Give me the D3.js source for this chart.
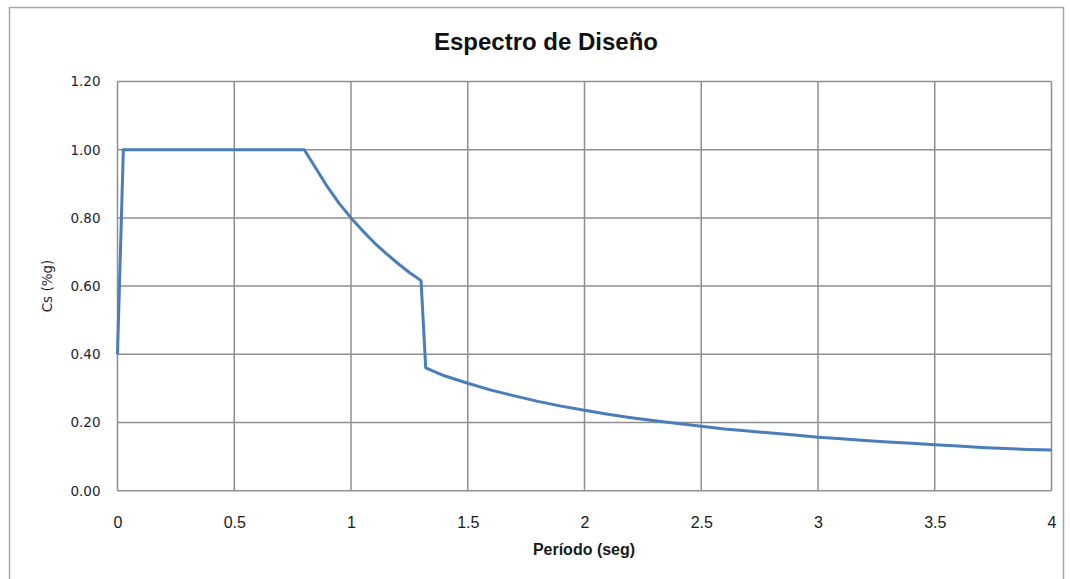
<!DOCTYPE html>
<html>
<head>
<meta charset="utf-8">
<script src="https://cdn.jsdelivr.net/npm/d3@7/dist/d3.min.js"></script>
<style>
  html, body { margin: 0; padding: 0; background: #fff; }
  svg { display: block; }
</style>
</head>
<body>
<svg id="chart" width="1070" height="579"></svg>
<script>
// Design spectrum: period T (s) and seismic coefficient Cs (%g)
const periods = [0, 0.025, 0.8, 0.85, 0.9, 0.95, 1.0, 1.05, 1.1, 1.15, 1.2, 1.25, 1.3,
  1.32, 1.4, 1.5, 1.6, 1.7, 1.8, 1.9, 2.0, 2.1, 2.2, 2.3, 2.4, 2.5, 2.6, 2.7, 2.8, 2.9,
  3.0, 3.1, 3.2, 3.3, 3.4, 3.5, 3.6, 3.7, 3.8, 3.9, 4.0];
const csValues = [0.40, 1.00, 1.00, 0.945, 0.89, 0.842, 0.80, 0.762, 0.727, 0.696, 0.667, 0.64, 0.616,
  0.36, 0.337, 0.315, 0.295, 0.278, 0.262, 0.248, 0.236, 0.224, 0.214, 0.205, 0.197, 0.189, 0.181, 0.175, 0.169, 0.163,
  0.157, 0.152, 0.147, 0.143, 0.139, 0.135, 0.131, 0.127, 0.124, 0.121, 0.119];
const xTicks = [0, 0.5, 1, 1.5, 2, 2.5, 3, 3.5, 4];
const yTicks = [0, 0.2, 0.4, 0.6, 0.8, 1.0, 1.2];

const titleText = "Espectro de Diseño";
const xTitle = "Período (seg)";
const yTitle = "Cs (%g)";

const svg = d3.select("#chart");
const plot = { left: 117.5, top: 81.5, right: 1051.5, bottom: 490.7 };

const gridColor = "#8f8f8f";
const lineColor = "#4a7ebb";
const narrow = "'Liberation Sans Narrow', 'Liberation Sans', sans-serif";
const verdanaLike = "'DejaVu Sans', Verdana, sans-serif";

// outer chart frame
svg.append("rect")
  .attr("x", 9.5).attr("y", 7.5)
  .attr("width", 1054).attr("height", 600)
  .attr("fill", "#fff")
  .attr("stroke", "#a6a6a6").attr("stroke-width", 1.5);

const x = d3.scaleLinear().domain([0, 4]).range([plot.left, plot.right]);
const y = d3.scaleLinear().domain([0, 1.2]).range([plot.bottom, plot.top]);

// gridlines
const grid = svg.append("g");
grid.selectAll("line.v").data(xTicks).join("line")
  .attr("class", "v")
  .attr("x1", d => x(d)).attr("x2", d => x(d))
  .attr("y1", plot.top).attr("y2", plot.bottom)
  .attr("stroke", gridColor).attr("stroke-width", 1.5);
grid.selectAll("line.h").data(yTicks).join("line")
  .attr("class", "h")
  .attr("x1", plot.left).attr("x2", plot.right)
  .attr("y1", d => y(d)).attr("y2", d => y(d))
  .attr("stroke", gridColor).attr("stroke-width", 1.5);

// axes (labels only; the grid carries the lines)
const xAxis = svg.append("g")
  .attr("transform", `translate(0,${plot.bottom})`)
  .call(d3.axisBottom(x).tickValues(xTicks).tickSize(0).tickPadding(26)
    .tickFormat(d => String(d)));
xAxis.select(".domain").remove();
xAxis.selectAll("text")
  .attr("font-family", narrow).attr("font-size", 16).attr("fill", "#1a1a1a");

const yAxis = svg.append("g")
  .attr("transform", `translate(${plot.left},0)`)
  .call(d3.axisLeft(y).tickValues(yTicks).tickSize(0).tickPadding(17)
    .tickFormat(d3.format(".2f")));
yAxis.select(".domain").remove();
yAxis.selectAll("text")
  .attr("font-family", verdanaLike).attr("font-size", 13.5).attr("fill", "#1b1f33");

// spectrum curve
const pts = periods.map((t, i) => [t, csValues[i]]);
svg.append("path")
  .datum(pts)
  .attr("fill", "none")
  .attr("stroke", lineColor)
  .attr("stroke-width", 3)
  .attr("stroke-linejoin", "round")
  .attr("d", d3.line().x(d => x(d[0])).y(d => y(d[1])));

// titles
svg.append("text")
  .attr("x", 546).attr("y", 50)
  .attr("text-anchor", "middle")
  .attr("font-family", narrow).attr("font-weight", "bold")
  .attr("font-size", 24).attr("fill", "#111")
  .text(titleText);

svg.append("text")
  .attr("x", 584).attr("y", 555)
  .attr("text-anchor", "middle")
  .attr("font-family", narrow).attr("font-weight", "bold")
  .attr("font-size", 16).attr("fill", "#1a1a1a")
  .text(xTitle);

svg.append("text")
  .attr("transform", "translate(52,286) rotate(-90)")
  .attr("text-anchor", "middle")
  .attr("font-family", verdanaLike)
  .attr("font-size", 13.5).attr("fill", "#1b1f33")
  .text(yTitle);
</script>
</body>
</html>
